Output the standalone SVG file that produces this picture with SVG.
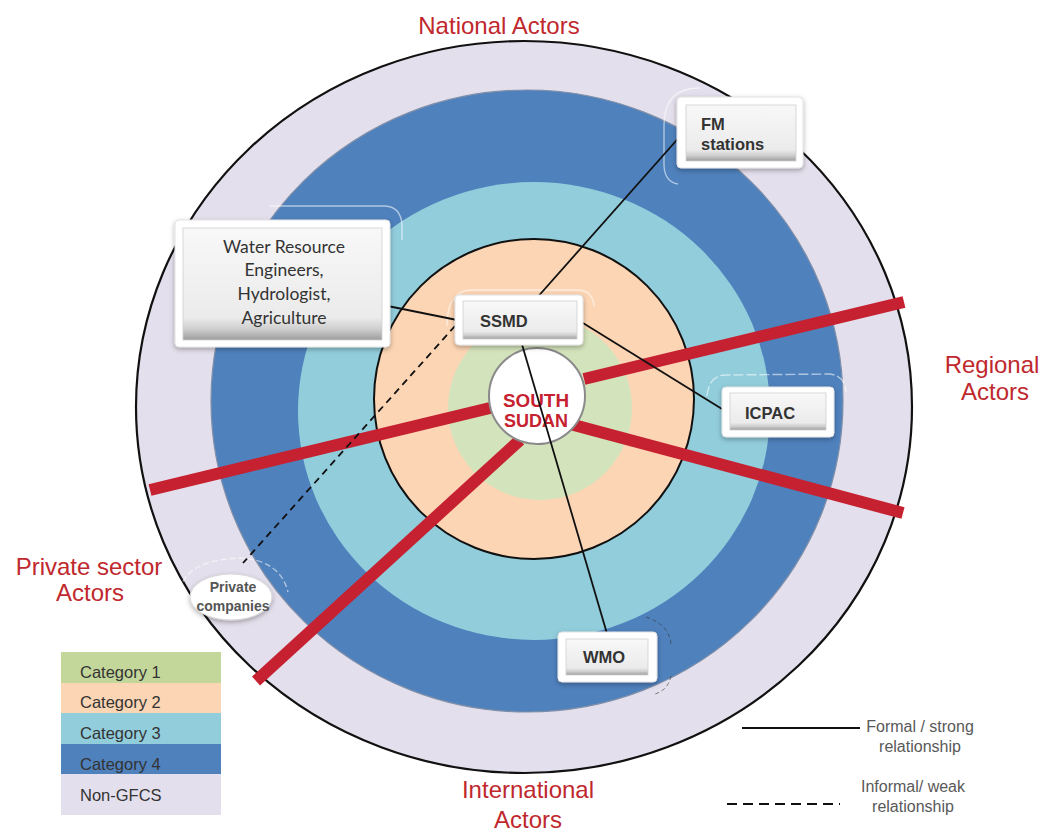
<svg xmlns="http://www.w3.org/2000/svg" width="1044" height="832" viewBox="0 0 1044 832">
<style>
.lbl{font-family:"Liberation Sans",Arial,sans-serif;font-size:24px;fill:#c0282e;text-anchor:middle}
.node{font-family:"Liberation Sans",Arial,sans-serif;font-weight:bold;font-size:16.5px;fill:#333}
.cal{font-family:Lato,"Liberation Sans",sans-serif;font-size:17.5px;fill:#333;text-anchor:middle}
.leg{font-family:"Liberation Sans",Arial,sans-serif;font-size:16.5px;fill:#333}
.rel{font-family:"Liberation Sans",Arial,sans-serif;font-size:16px;fill:#595959;text-anchor:middle}
.outer{fill:#fff;stroke:#e2e2e2;stroke-width:1;filter:url(#sh)}
.inner{fill:url(#bev);stroke:#cfcfcf;stroke-width:0.8}
.con{stroke:#111;stroke-width:1.8;fill:none}
.spoke{stroke:#c62130;stroke-width:12;stroke-linecap:butt}
.halo{fill:none;stroke:#fff;stroke-width:1.4;opacity:0.55}
.ss{font-family:"Liberation Sans",Arial,sans-serif;font-weight:bold;font-size:17.5px;fill:#c62130;text-anchor:middle}
</style>
<defs>
<linearGradient id="bev" x1="0" y1="0" x2="0" y2="1">
<stop offset="0" stop-color="#f8f8f8"/>
<stop offset="0.8" stop-color="#ebebeb"/>
<stop offset="0.9" stop-color="#cfcfcf"/>
<stop offset="1" stop-color="#9d9d9d"/>
</linearGradient>
<filter id="sh" x="-20%" y="-20%" width="140%" height="150%">
<feDropShadow dx="0" dy="2" stdDeviation="2.5" flood-color="#000" flood-opacity="0.3"/>
</filter>
</defs>
<rect width="1044" height="832" fill="#fff"/>

<g id="rings">
<ellipse cx="524" cy="407" rx="388" ry="366" fill="#e4dfec" stroke="#111" stroke-width="2.2"/>
<ellipse cx="527" cy="401" rx="316" ry="311" fill="#4f81bd" stroke="#7f8fa8" stroke-width="1.2"/>
<ellipse cx="534" cy="411" rx="236" ry="229" fill="#92cddc"/>
<circle cx="534" cy="399" r="160" fill="#fcd5b4" stroke="#111" stroke-width="2"/>
<circle cx="540" cy="408" r="92" fill="#d3e3bb"/>
</g>

<g id="spokes">
<line class="spoke" x1="584" y1="379" x2="904" y2="302"/>
<line class="spoke" x1="570" y1="424" x2="903" y2="513"/>
<line class="spoke" x1="490" y1="408" x2="150" y2="490"/>
<line class="spoke" x1="520" y1="440" x2="256" y2="681"/>
</g>

<g id="south-sudan">
<circle cx="537" cy="396" r="48" fill="#fff" stroke="#8a8a8a" stroke-width="2"/>
<text class="ss" x="536" y="407" textLength="66" lengthAdjust="spacingAndGlyphs">SOUTH</text>
<text class="ss" x="536" y="427" textLength="64" lengthAdjust="spacingAndGlyphs">SUDAN</text>
</g>

<g id="halos">
<path class="halo" d="M700 88 Q664 88 664 125 L664 166 Q665 182 678 184"/>
<path class="halo" d="M270 206 L385 206 Q401 207 402 225 L402 240"/>
<path class="halo" d="M707 396 Q709 375 726 375 L830 374 Q845 376 846 392" stroke-dasharray="10 3"/>
<path class="halo" d="M447 326 Q447 290 472 290 L580 290 Q593 292 594 306" opacity="0.35"/>
<path d="M646 617 Q670 625 671 645 M671 676 Q668 690 655 694" fill="none" stroke="#333" stroke-width="1" stroke-dasharray="4 3" opacity="0.6"/>
<path class="halo" d="M180 590 Q186 560 240 558 Q280 560 288 592" stroke-dasharray="6 3"/>
</g>

<g id="connectors">
<line class="con" x1="358" y1="300" x2="462" y2="321"/>
<line class="con" x1="683" y1="133" x2="535" y2="300"/>
<line class="con" x1="583" y1="323" x2="722" y2="409"/>
<line class="con" x1="521" y1="341" x2="608" y2="637"/>
<line class="con" x1="455" y1="326" x2="243" y2="563" stroke-dasharray="7 5"/>
</g>

<g id="water">
<rect class="outer" x="175" y="220" width="215" height="127" rx="4"/>
<rect class="inner" x="183" y="228" width="199" height="112"/>
<text class="cal" x="284" y="253">Water Resource</text>
<text class="cal" x="284" y="276">Engineers,</text>
<text class="cal" x="284" y="300">Hydrologist,</text>
<text class="cal" x="284" y="324">Agriculture</text>
</g>

<g id="fm">
<rect class="outer" x="677" y="97" width="126" height="71" rx="4"/>
<rect class="inner" x="686" y="105" width="110" height="56"/>
<text class="node" x="701" y="130">FM</text>
<text class="node" x="701" y="150">stations</text>
</g>

<g id="ssmd">
<rect class="outer" x="455" y="295" width="128" height="50" rx="4"/>
<rect class="inner" x="463" y="301" width="114" height="38"/>
<text class="node" x="480" y="327">SSMD</text>
</g>

<g id="icpac">
<rect class="outer" x="722" y="387" width="112" height="50" rx="4"/>
<rect class="inner" x="730" y="393" width="96" height="37"/>
<text class="node" x="745" y="419">ICPAC</text>
</g>

<g id="wmo">
<rect class="outer" x="558" y="632" width="99" height="50" rx="4"/>
<rect class="inner" x="566" y="639" width="82" height="36"/>
<text class="node" x="604" y="663" text-anchor="middle">WMO</text>
</g>

<g id="private">
<ellipse cx="231" cy="597" rx="41" ry="23" fill="#fff" stroke="#d8d8d8" stroke-width="1" filter="url(#sh)"/>
<text x="233" y="592" font-family="Liberation Sans,Arial,sans-serif" font-weight="bold" font-size="14" fill="#555" text-anchor="middle">Private</text>
<text x="233" y="611" font-family="Liberation Sans,Arial,sans-serif" font-weight="bold" font-size="14" fill="#555" text-anchor="middle">companies</text>
</g>

<g id="labels">
<text class="lbl" x="499" y="34">National Actors</text>
<text class="lbl" x="992" y="373">Regional</text>
<text class="lbl" x="995" y="400">Actors</text>
<text class="lbl" x="528" y="798">International</text>
<text class="lbl" x="528" y="828">Actors</text>
<text class="lbl" x="89" y="575" font-size="23">Private sector</text>
<text class="lbl" x="90" y="601" font-size="23">Actors</text>
</g>

<g id="legend">
<rect x="61" y="652" width="160" height="31" fill="#c4d79b"/>
<rect x="61" y="683" width="160" height="30" fill="#fcd5b4"/>
<rect x="61" y="713" width="160" height="31" fill="#92cddc"/>
<rect x="61" y="744" width="160" height="30" fill="#4f81bd"/>
<rect x="61" y="774" width="160" height="41" fill="#e4dfec"/>
<text class="leg" x="80" y="678">Category 1</text>
<text class="leg" x="80" y="708">Category 2</text>
<text class="leg" x="80" y="739">Category 3</text>
<text class="leg" x="80" y="770" fill="#1f2d4a">Category 4</text>
<text class="leg" x="80" y="801">Non-GFCS</text>
</g>

<g id="relationship-legend">
<line x1="742" y1="728" x2="860" y2="728" stroke="#111" stroke-width="1.8"/>
<text class="rel" x="920" y="732">Formal / strong</text>
<text class="rel" x="920" y="752">relationship</text>
<line x1="727" y1="804" x2="840" y2="804" stroke="#111" stroke-width="2" stroke-dasharray="10 6"/>
<text class="rel" x="913" y="792">Informal/ weak</text>
<text class="rel" x="913" y="812">relationship</text>
</g>
</svg>
